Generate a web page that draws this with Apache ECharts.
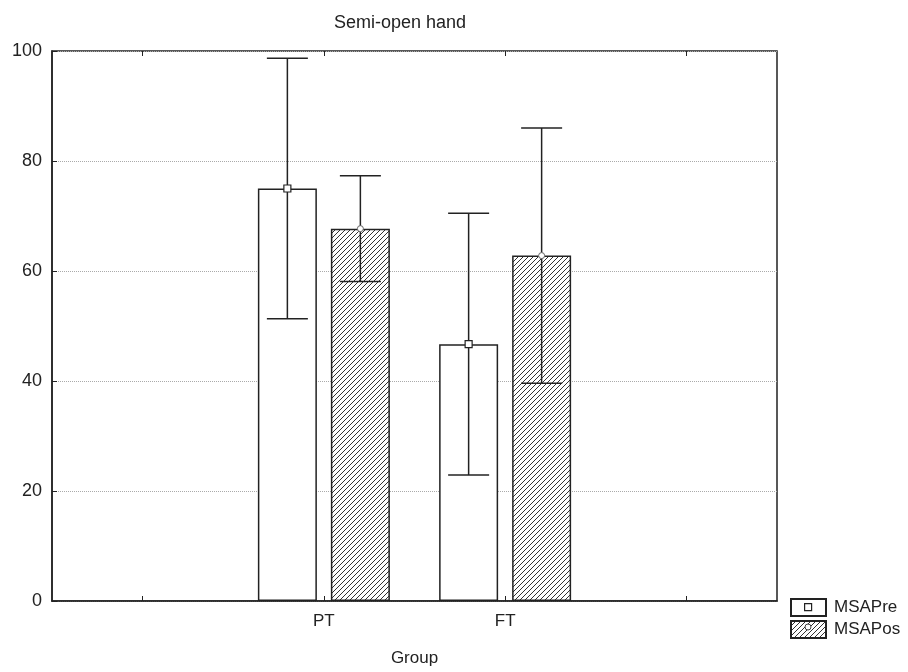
<!DOCTYPE html>
<html>
<head>
<meta charset="utf-8">
<script src="https://cdn.jsdelivr.net/npm/echarts@6/dist/echarts.min.js"></script>
<style>html,body{margin:0;padding:0;background:#fff}#c{width:908px;height:672px}</style>
</head>
<body>
<div id="c"></div>
<script>
var categories = ['', 'PT', 'FT', ''];
var preMean = [null, 75.0, 46.7, null];
var preErr  = [null, 23.7, 23.8, null];
var posMean = [null, 67.7, 62.8, null];
var posErr  = [null, 9.6, 23.2, null];
var seriesNames = ['MSAPre', 'MSAPos'];
var yTicks = [0, 20, 40, 60, 80, 100];

// hatch pattern
var pc = document.createElement('canvas');
pc.width = 5; pc.height = 5;
var g = pc.getContext('2d');
g.fillStyle = '#fff'; g.fillRect(0,0,5,5);
g.strokeStyle = '#333'; g.lineWidth = 1;
g.beginPath();
g.moveTo(-1,6); g.lineTo(6,-1);
g.moveTo(-1,1); g.lineTo(1,-1);
g.moveTo(4,6); g.lineTo(6,4);
g.stroke();
var hatch = {image: pc, repeat: 'repeat'};

var BAR_W = 59, GAP = 14, OFF = (BAR_W + GAP) / 2;

function errData(means, errs) {
  var out = [];
  for (var i = 0; i < means.length; i++) if (means[i] != null) out.push([i, means[i], errs[i]]);
  return out;
}
function makeRender(offset, marker) {
  return function (params, api) {
    var i = api.value(0), m = api.value(1), e = api.value(2);
    var c = api.coord([i, m]), t = api.coord([i, m + e]), b = api.coord([i, m - e]);
    var x = c[0] + offset, cap = 20.5;
    var ls = {stroke: '#222', lineWidth: 1.5};
    var children = [
      {type: 'line', shape: {x1: x, y1: t[1], x2: x, y2: b[1]}, style: ls},
      {type: 'line', shape: {x1: x - cap, y1: t[1], x2: x + cap, y2: t[1]}, style: ls},
      {type: 'line', shape: {x1: x - cap, y1: b[1], x2: x + cap, y2: b[1]}, style: ls}
    ];
    if (marker === 'square') {
      children.push({type: 'rect', shape: {x: x - 3.5, y: c[1] - 3.5, width: 7, height: 7}, style: {fill: '#fff', stroke: '#222', lineWidth: 1.2}});
    } else {
      children.push({type: 'circle', shape: {cx: x, cy: c[1], r: 3}, style: {fill: '#fff', stroke: '#666', lineWidth: 1}});
    }
    return {type: 'group', children: children};
  };
}

var chart = echarts.init(document.getElementById('c'), null, {renderer: 'canvas'});
var font = 'Arial, "Liberation Sans", sans-serif';
chart.setOption({
  animation: false,
  backgroundColor: '#fff',
  textStyle: {fontFamily: font},
  title: {text: 'Semi-open hand', left: 395, top: 9, textAlign: 'center',
    textStyle: {fontSize: 18, fontWeight: 'normal', color: '#222', fontFamily: font}},
  grid: {left: 52, right: 131, top: 51, bottom: 70, show: true, borderColor: '#222', borderWidth: 1.5, backgroundColor: '#fff'},
  legend: {
    orient: 'vertical', left: 790, top: 598, padding: 0, itemWidth: 35, itemHeight: 17, itemGap: 3,
    data: seriesNames, icon: 'rect',
    textStyle: {fontSize: 17, color: '#222', fontFamily: font, padding: [0,0,0,3]}
  },
  graphic: [
    {type: 'rect', left: 804, top: 603, shape: {width: 7, height: 7}, style: {fill: '#fff', stroke: '#222', lineWidth: 1.2}, z: 100},
    {type: 'circle', left: 804.5, top: 623.5, shape: {r: 3}, style: {fill: '#fff', stroke: '#444', lineWidth: 1}, z: 100}
  ],
  xAxis: [{
    type: 'category', data: categories, boundaryGap: true,
    axisLine: {lineStyle: {color: '#222', width: 1.5}},
    axisTick: {show: true, alignWithLabel: true, inside: true, length: 5, lineStyle: {color: '#222'}},
    axisLabel: {fontSize: 17, color: '#222', margin: 12, fontFamily: font},
    name: 'Group', nameLocation: 'middle', nameGap: 49,
    nameTextStyle: {fontSize: 17, color: '#222', fontFamily: font},
    splitLine: {show: false}
  }, {
    type: 'category', data: categories, position: 'top', boundaryGap: true,
    axisLine: {show: false},
    axisTick: {show: true, alignWithLabel: true, inside: true, length: 5, lineStyle: {color: '#222'}},
    axisLabel: {show: false}
  }],
  yAxis: {
    type: 'value', min: 0, max: 100, interval: 20,
    axisLine: {show: true, lineStyle: {color: '#222', width: 1.5}},
    axisTick: {show: true, inside: true, length: 5, lineStyle: {color: '#222'}},
    axisLabel: {fontSize: 18, color: '#222', margin: 10, fontFamily: font,
      formatter: function (v) { return yTicks.indexOf(v) >= 0 ? String(v) : ''; }},
    splitLine: {show: true, lineStyle: {color: '#aaa', type: 'dotted', width: 1}}
  },
  series: [
    {name: seriesNames[0], type: 'bar', data: preMean, barWidth: BAR_W, barGap: (GAP / BAR_W * 100) + '%',
      itemStyle: {color: '#fff', borderColor: '#222', borderWidth: 1.5}, z: 2},
    {name: seriesNames[1], type: 'bar', data: posMean, barWidth: BAR_W,
      itemStyle: {color: hatch, borderColor: '#222', borderWidth: 1.5}, z: 2},
    {type: 'custom', data: errData(preMean, preErr), renderItem: makeRender(-OFF, 'square'),
      encode: {x: 0, y: 1}, z: 5, silent: true},
    {type: 'custom', data: errData(posMean, posErr), renderItem: makeRender(OFF, 'circle'),
      encode: {x: 0, y: 1}, z: 5, silent: true}
  ]
});
</script>
</body>
</html>
